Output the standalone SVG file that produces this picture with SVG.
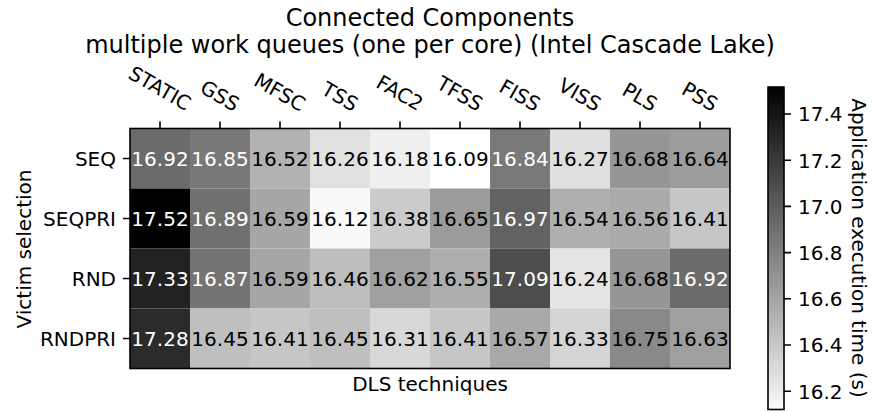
<svg xmlns="http://www.w3.org/2000/svg" width="876" height="411" viewBox="0 0 876 411">
<style>
text{font-family:"DejaVu Sans","Liberation Sans",sans-serif;font-size:20px;fill:#000}
.title{font-size:24px;text-anchor:middle}
.v{text-anchor:middle}
.w{fill:#fff}
.rl{text-anchor:end}
.cl{text-anchor:middle}
.tick{stroke:#000;stroke-width:1.6}
.frame{fill:none;stroke:#000;stroke-width:1.6}
</style>
<defs>
<linearGradient id="cmap" gradientUnits="userSpaceOnUse" x1="0" y1="86.3" x2="0" y2="416.6">
<stop offset="0" stop-color="#000"/>
<stop offset="1" stop-color="#fff"/>
</linearGradient>
</defs>
<rect width="876" height="411" fill="#fff"/>
<g id="title">
<text class="title" x="430" y="26">Connected Components</text>
<text class="title" x="430" y="53">multiple work queues (one per core) (Intel Cascade Lake)</text>
</g>
<g id="cells">
<rect x="130" y="128.5" width="60" height="60" fill="rgb(107,107,107)"/>
<rect x="190" y="128.5" width="60" height="60" fill="rgb(120,120,120)"/>
<rect x="250" y="128.5" width="60" height="60" fill="rgb(178,178,178)"/>
<rect x="310" y="128.5" width="60" height="60" fill="rgb(225,225,225)"/>
<rect x="370" y="128.5" width="60" height="60" fill="rgb(239,239,239)"/>
<rect x="430" y="128.5" width="60" height="60" fill="rgb(255,255,255)"/>
<rect x="490" y="128.5" width="60" height="60" fill="rgb(121,121,121)"/>
<rect x="550" y="128.5" width="60" height="60" fill="rgb(223,223,223)"/>
<rect x="610" y="128.5" width="60" height="60" fill="rgb(150,150,150)"/>
<rect x="670" y="128.5" width="60" height="60" fill="rgb(157,157,157)"/>
<rect x="130" y="188.5" width="60" height="60" fill="rgb(0,0,0)"/>
<rect x="190" y="188.5" width="60" height="60" fill="rgb(112,112,112)"/>
<rect x="250" y="188.5" width="60" height="60" fill="rgb(166,166,166)"/>
<rect x="310" y="188.5" width="60" height="60" fill="rgb(250,250,250)"/>
<rect x="370" y="188.5" width="60" height="60" fill="rgb(203,203,203)"/>
<rect x="430" y="188.5" width="60" height="60" fill="rgb(155,155,155)"/>
<rect x="490" y="188.5" width="60" height="60" fill="rgb(98,98,98)"/>
<rect x="550" y="188.5" width="60" height="60" fill="rgb(175,175,175)"/>
<rect x="610" y="188.5" width="60" height="60" fill="rgb(171,171,171)"/>
<rect x="670" y="188.5" width="60" height="60" fill="rgb(198,198,198)"/>
<rect x="130" y="248.5" width="60" height="60" fill="rgb(34,34,34)"/>
<rect x="190" y="248.5" width="60" height="60" fill="rgb(116,116,116)"/>
<rect x="250" y="248.5" width="60" height="60" fill="rgb(166,166,166)"/>
<rect x="310" y="248.5" width="60" height="60" fill="rgb(189,189,189)"/>
<rect x="370" y="248.5" width="60" height="60" fill="rgb(160,160,160)"/>
<rect x="430" y="248.5" width="60" height="60" fill="rgb(173,173,173)"/>
<rect x="490" y="248.5" width="60" height="60" fill="rgb(77,77,77)"/>
<rect x="550" y="248.5" width="60" height="60" fill="rgb(228,228,228)"/>
<rect x="610" y="248.5" width="60" height="60" fill="rgb(150,150,150)"/>
<rect x="670" y="248.5" width="60" height="60" fill="rgb(107,107,107)"/>
<rect x="130" y="308.5" width="60" height="60" fill="rgb(43,43,43)"/>
<rect x="190" y="308.5" width="60" height="60" fill="rgb(191,191,191)"/>
<rect x="250" y="308.5" width="60" height="60" fill="rgb(198,198,198)"/>
<rect x="310" y="308.5" width="60" height="60" fill="rgb(191,191,191)"/>
<rect x="370" y="308.5" width="60" height="60" fill="rgb(216,216,216)"/>
<rect x="430" y="308.5" width="60" height="60" fill="rgb(198,198,198)"/>
<rect x="490" y="308.5" width="60" height="60" fill="rgb(169,169,169)"/>
<rect x="550" y="308.5" width="60" height="60" fill="rgb(212,212,212)"/>
<rect x="610" y="308.5" width="60" height="60" fill="rgb(137,137,137)"/>
<rect x="670" y="308.5" width="60" height="60" fill="rgb(159,159,159)"/>
</g>
<g id="values">
<text class="v w" x="160" y="165.8">16.92</text>
<text class="v w" x="220" y="165.8">16.85</text>
<text class="v" x="280" y="165.8">16.52</text>
<text class="v" x="340" y="165.8">16.26</text>
<text class="v" x="400" y="165.8">16.18</text>
<text class="v" x="460" y="165.8">16.09</text>
<text class="v w" x="520" y="165.8">16.84</text>
<text class="v" x="580" y="165.8">16.27</text>
<text class="v" x="640" y="165.8">16.68</text>
<text class="v" x="700" y="165.8">16.64</text>
<text class="v w" x="160" y="225.8">17.52</text>
<text class="v w" x="220" y="225.8">16.89</text>
<text class="v" x="280" y="225.8">16.59</text>
<text class="v" x="340" y="225.8">16.12</text>
<text class="v" x="400" y="225.8">16.38</text>
<text class="v" x="460" y="225.8">16.65</text>
<text class="v w" x="520" y="225.8">16.97</text>
<text class="v" x="580" y="225.8">16.54</text>
<text class="v" x="640" y="225.8">16.56</text>
<text class="v" x="700" y="225.8">16.41</text>
<text class="v w" x="160" y="285.8">17.33</text>
<text class="v w" x="220" y="285.8">16.87</text>
<text class="v" x="280" y="285.8">16.59</text>
<text class="v" x="340" y="285.8">16.46</text>
<text class="v" x="400" y="285.8">16.62</text>
<text class="v" x="460" y="285.8">16.55</text>
<text class="v w" x="520" y="285.8">17.09</text>
<text class="v" x="580" y="285.8">16.24</text>
<text class="v" x="640" y="285.8">16.68</text>
<text class="v w" x="700" y="285.8">16.92</text>
<text class="v w" x="160" y="345.8">17.28</text>
<text class="v" x="220" y="345.8">16.45</text>
<text class="v" x="280" y="345.8">16.41</text>
<text class="v" x="340" y="345.8">16.45</text>
<text class="v" x="400" y="345.8">16.31</text>
<text class="v" x="460" y="345.8">16.41</text>
<text class="v" x="520" y="345.8">16.57</text>
<text class="v" x="580" y="345.8">16.33</text>
<text class="v" x="640" y="345.8">16.75</text>
<text class="v" x="700" y="345.8">16.63</text>
</g>
<rect class="frame" x="130" y="128.5" width="600" height="240"/>
<g id="xticks">
<path class="tick" d="M160 128.5V121.5M220 128.5V121.5M280 128.5V121.5M340 128.5V121.5M400 128.5V121.5M460 128.5V121.5M520 128.5V121.5M580 128.5V121.5M640 128.5V121.5M700 128.5V121.5"/>
<text class="cl" transform="translate(160,88) rotate(30)" y="7.3">STATIC</text>
<text class="cl" transform="translate(220,95.5) rotate(30)" y="7.3">GSS</text>
<text class="cl" transform="translate(280,91.9) rotate(30)" y="7.3">MFSC</text>
<text class="cl" transform="translate(340,96.3) rotate(30)" y="7.3">TSS</text>
<text class="cl" transform="translate(400,92.7) rotate(30)" y="7.3">FAC2</text>
<text class="cl" transform="translate(460,93.4) rotate(30)" y="7.3">TFSS</text>
<text class="cl" transform="translate(520,95) rotate(30)" y="7.3">FISS</text>
<text class="cl" transform="translate(580,94.5) rotate(30)" y="7.3">VISS</text>
<text class="cl" transform="translate(640,96.7) rotate(30)" y="7.3">PLS</text>
<text class="cl" transform="translate(700,96.4) rotate(30)" y="7.3">PSS</text>
</g>
<g id="yticks">
<path class="tick" d="M130 158.5H123M130 218.5H123M130 278.5H123M130 338.5H123"/>
<text class="rl" x="116" y="165.8">SEQ</text>
<text class="rl" x="116" y="225.8">SEQPRI</text>
<text class="rl" x="116" y="285.8">RND</text>
<text class="rl" x="116" y="345.8">RNDPRI</text>
</g>
<g id="axis-labels">
<text class="v" x="430" y="391">DLS techniques</text>
<text class="v" transform="translate(30.5,249) rotate(-90)">Victim selection</text>
</g>
<g id="colorbar">
<rect x="768" y="87" width="16" height="322.5" fill="url(#cmap)"/>
<rect class="frame" x="768" y="87" width="16" height="322.5"/>
<path class="tick" d="M784 114H791M784 160.2H791M784 206.4H791M784 252.6H791M784 298.8H791M784 345H791M784 391.2H791"/>
<text x="798" y="121.3">17.4</text>
<text x="798" y="167.5">17.2</text>
<text x="798" y="213.7">17.0</text>
<text x="798" y="259.9">16.8</text>
<text x="798" y="306.1">16.6</text>
<text x="798" y="352.3">16.4</text>
<text x="798" y="398.5">16.2</text>
<text class="v" transform="translate(852,248) rotate(90)">Application execution time (s)</text>
</g>
</svg>
